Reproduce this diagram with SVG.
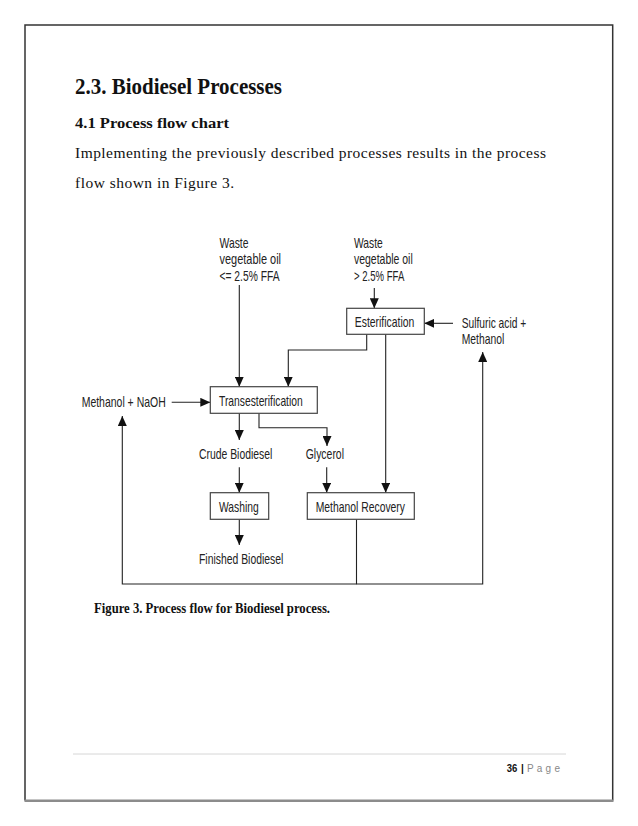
<svg xmlns="http://www.w3.org/2000/svg" width="638" height="826" viewBox="0 0 638 826">
<style>
  .lbl { font-family: "Liberation Sans", Arial, sans-serif; font-size: 14.5px; fill: #222; }
  .box { fill: #fff; stroke: #444; stroke-width: 1.2; }
  .arr { fill: none; stroke: #222; stroke-width: 1.1; marker-end: url(#ah); }
  .serifb { font-family: "Liberation Serif", "Times New Roman", serif; font-weight: bold; fill: #111; }
  .serif { font-family: "Liberation Serif", "Times New Roman", serif; fill: #111; }
</style>
<defs>
  <marker id="ah" markerUnits="userSpaceOnUse" markerWidth="10" markerHeight="9" refX="10" refY="4.5" orient="auto" viewBox="0 0 10 9">
    <path d="M0,0 L10,4.5 L0,9 z" fill="#111"/>
  </marker>
</defs>
<rect x="0" y="0" width="638" height="826" fill="#fff"/>
<g id="page">
  <path d="M25,800.5 L25,25 L612.7,25 L612.7,800.5" fill="none" stroke="#333" stroke-width="1.5"/>
  <line x1="24.5" y1="800.7" x2="613.5" y2="800.7" stroke="#8c8c8c" stroke-width="2.5"/>
  <line x1="73" y1="754" x2="566" y2="754" stroke="#d6d6d6" stroke-width="1"/>
  <text x="506.7" y="772" font-family="Liberation Sans, Arial, sans-serif" font-size="10" font-weight="bold" fill="#111" textLength="10.6" lengthAdjust="spacingAndGlyphs">36</text>
  <text x="521" y="772" font-family="Liberation Sans, Arial, sans-serif" font-size="10" font-weight="bold" fill="#111">|</text>
  <text x="527" y="772" font-family="Liberation Sans, Arial, sans-serif" font-size="10" fill="#888" textLength="33" lengthAdjust="spacing">P a g e</text>
</g>
<g id="heading">
  <text class="serifb" x="75" y="94.3" font-size="22.5" textLength="207" lengthAdjust="spacingAndGlyphs">2.3. Biodiesel Processes</text>
  <text class="serifb" x="75" y="128.3" font-size="15" textLength="154" lengthAdjust="spacingAndGlyphs">4.1 Process flow chart</text>
  <text class="serif" x="75" y="157.7" font-size="15.5" textLength="471" lengthAdjust="spacing">Implementing the previously described processes results in the process</text>
  <text class="serif" x="75" y="187.7" font-size="15.5" textLength="159" lengthAdjust="spacing">flow shown in Figure 3.</text>
</g>
<g id="connectors">
  <path class="arr" d="M239.3,285 L239.3,386.7"/>
  <path class="arr" d="M374.3,288 L374.3,308.3"/>
  <path class="arr" d="M453,323.3 L424.3,323.3"/>
  <path class="arr" d="M366.7,334.3 L366.7,350 L288.3,350 L288.3,386.7"/>
  <path class="arr" d="M385.7,334.3 L385.7,492.7"/>
  <path class="arr" d="M171.7,402.3 L210.3,402.3"/>
  <path class="arr" d="M239.3,413.3 L239.3,440"/>
  <path class="arr" d="M259,413.3 L259,427.7 L327,427.7 L327,446"/>
  <path class="arr" d="M239.3,467.3 L239.3,492.7"/>
  <path class="arr" d="M326.7,467.3 L326.7,492.7"/>
  <path class="arr" d="M239.3,519.3 L239.3,545"/>
  <path class="arr" d="M356.5,519.3 L356.5,584 L122.3,584 L122.3,416"/>
  <path class="arr" d="M356.5,584 L482.7,584 L482.7,352"/>
</g>
<g id="n_wvo_low">
  <text class="lbl" x="219.5" y="248" font-size="13.5" textLength="29" lengthAdjust="spacingAndGlyphs">Waste</text>
  <text class="lbl" x="219.5" y="264" font-size="13.5" textLength="61.5" lengthAdjust="spacingAndGlyphs">vegetable oil</text>
  <text class="lbl" x="219.5" y="280.5" font-size="13.5" textLength="60" lengthAdjust="spacingAndGlyphs">&lt;= 2.5% FFA</text>
</g>
<g id="n_wvo_high">
  <text class="lbl" x="354" y="248" font-size="13.5" textLength="28.7" lengthAdjust="spacingAndGlyphs">Waste</text>
  <text class="lbl" x="354" y="264" font-size="13.5" textLength="58.7" lengthAdjust="spacingAndGlyphs">vegetable oil</text>
  <text class="lbl" x="354" y="280.5" font-size="13.5" textLength="50.3" lengthAdjust="spacingAndGlyphs">&gt; 2.5% FFA</text>
</g>
<g id="n_esterification">
  <rect class="box" x="346.7" y="308.3" width="77.6" height="26"/>
  <text class="lbl" x="354.8" y="327" textLength="59.5" lengthAdjust="spacingAndGlyphs">Esterification</text>
</g>
<g id="n_sulfuric">
  <text class="lbl" x="461.7" y="328" textLength="64.5" lengthAdjust="spacingAndGlyphs">Sulfuric acid +</text>
  <text class="lbl" x="461.7" y="344.3" textLength="42.5" lengthAdjust="spacingAndGlyphs">Methanol</text>
</g>
<g id="n_methanol_naoh">
  <text class="lbl" x="81.7" y="407" textLength="84" lengthAdjust="spacingAndGlyphs">Methanol + NaOH</text>
</g>
<g id="n_transesterification">
  <rect class="box" x="210.3" y="386.7" width="107" height="26.6"/>
  <text class="lbl" x="219" y="406" textLength="83.7" lengthAdjust="spacingAndGlyphs">Transesterification</text>
</g>
<g id="n_crude">
  <text class="lbl" x="199" y="459" textLength="73.3" lengthAdjust="spacingAndGlyphs">Crude Biodiesel</text>
</g>
<g id="n_glycerol">
  <text class="lbl" x="305.7" y="459" textLength="38.3" lengthAdjust="spacingAndGlyphs">Glycerol</text>
</g>
<g id="n_washing">
  <rect class="box" x="210.3" y="492.7" width="58.4" height="26.6"/>
  <text class="lbl" x="219" y="511.7" textLength="39.7" lengthAdjust="spacingAndGlyphs">Washing</text>
</g>
<g id="n_methanol_recovery">
  <rect class="box" x="307.3" y="492.7" width="107" height="26.6"/>
  <text class="lbl" x="315.7" y="511.7" textLength="89.3" lengthAdjust="spacingAndGlyphs">Methanol Recovery</text>
</g>
<g id="n_finished">
  <text class="lbl" x="199" y="563.5" textLength="84.3" lengthAdjust="spacingAndGlyphs">Finished Biodiesel</text>
</g>
<g id="caption">
  <text class="serifb" x="94" y="613" font-size="15" textLength="236" lengthAdjust="spacingAndGlyphs">Figure 3.  Process flow for Biodiesel process.</text>
</g>
</svg>
